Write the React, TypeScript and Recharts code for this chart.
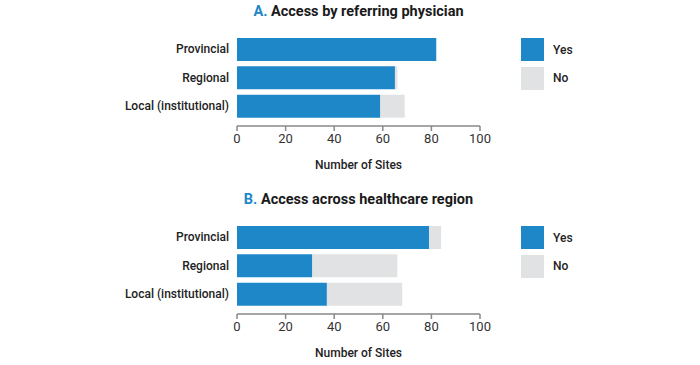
import React from 'react';
import { BarChart, Bar, XAxis, YAxis, Legend, Label } from 'recharts';

const categories = ['Provincial', 'Regional', 'Local (institutional)'];
const physicianYes = [82, 65, 59];
const physicianNo = [0, 1, 10];
const regionYes = [79, 31, 37];
const regionNo = [5, 35, 31];
const xTicks = [0, 20, 40, 60, 80, 100];
const legendOrder = ['Yes', 'No'];

const BLUE = '#1e87c8';
const GREY = '#e1e2e4';
const FONT = 'Roboto, "Noto Sans", sans-serif';

const LegendBox = (props: any) => {
    const items = [...(props.payload || [])].sort(
        (a: any, b: any) => legendOrder.indexOf(a.value) - legendOrder.indexOf(b.value)
    );
    return (
        <div style={{ fontFamily: FONT }}>
            {items.map((it: any) => (
                <div key={it.value} style={{ display: 'flex', alignItems: 'center', height: 23, marginBottom: 5.5 }}>
                    <div style={{ width: 23, height: 23, backgroundColor: it.color }} />
                    <span style={{ marginLeft: 9, fontSize: 12, fontWeight: 500, color: '#222' }}>{it.value}</span>
                </div>
            ))}
        </div>
    );
};

const Panel: React.FC<{ letter: string; title: string; yes: number[]; no: number[]; top: number }> = ({ letter, title, yes, no, top }) => {
    const data = categories.map((c, i) => ({ name: c, yes: yes[i], no: no[i] }));
    return (
        <div style={{ position: 'absolute', left: 0, top, width: 700, height: 182 }}>
            <div style={{ position: 'absolute', left: 237, width: 243, top: 3, textAlign: 'center', fontFamily: FONT, fontWeight: 700, fontSize: 14.5, color: '#1a1a1a', whiteSpace: 'nowrap' }}>
                <span style={{ color: BLUE }}>{letter}</span> {title}
            </div>
            <BarChart width={700} height={182} data={data} layout="vertical" barSize={23}
                margin={{ top: 35, right: 220, bottom: 10, left: 0 }}>
                <XAxis type="number" domain={[0, 100]} ticks={xTicks} height={46}
                    tick={{ fontSize: 13, fill: '#333', fontFamily: FONT }} tickMargin={3} tickSize={5}
                    axisLine={{ stroke: '#888', strokeWidth: 1.5 }} tickLine={{ stroke: '#888', strokeWidth: 1.5 }}>
                    <Label value="Number of Sites" position="insideBottom" offset={3}
                        style={{ fontSize: 12, fontWeight: 500, fill: '#222', fontFamily: FONT }} />
                </XAxis>
                <YAxis type="category" dataKey="name" width={237} axisLine={false} tickLine={false}
                    tickSize={0} tickMargin={8} padding={{ top: 0, bottom: 6 }}
                    tick={{ fontSize: 12, fontWeight: 500, fill: '#222', fontFamily: FONT }} />
                <Legend layout="horizontal" verticalAlign="middle" align="center" content={LegendBox}
                    wrapperStyle={{ left: 521, top: 38, width: 100 }} />
                <Bar dataKey="yes" name="Yes" stackId="a" fill={BLUE} isAnimationActive={false} />
                <Bar dataKey="no" name="No" stackId="a" fill={GREY} isAnimationActive={false} />
            </BarChart>
        </div>
    );
};

export default function App() {
    return (
        <div style={{ position: 'absolute', left: 0, top: 0, width: 700, height: 365, background: '#fff' }}>
            <Panel letter="A." title="Access by referring physician" yes={physicianYes} no={physicianNo} top={0} />
            <Panel letter="B." title="Access across healthcare region" yes={regionYes} no={regionNo} top={188} />
        </div>
    );
}
